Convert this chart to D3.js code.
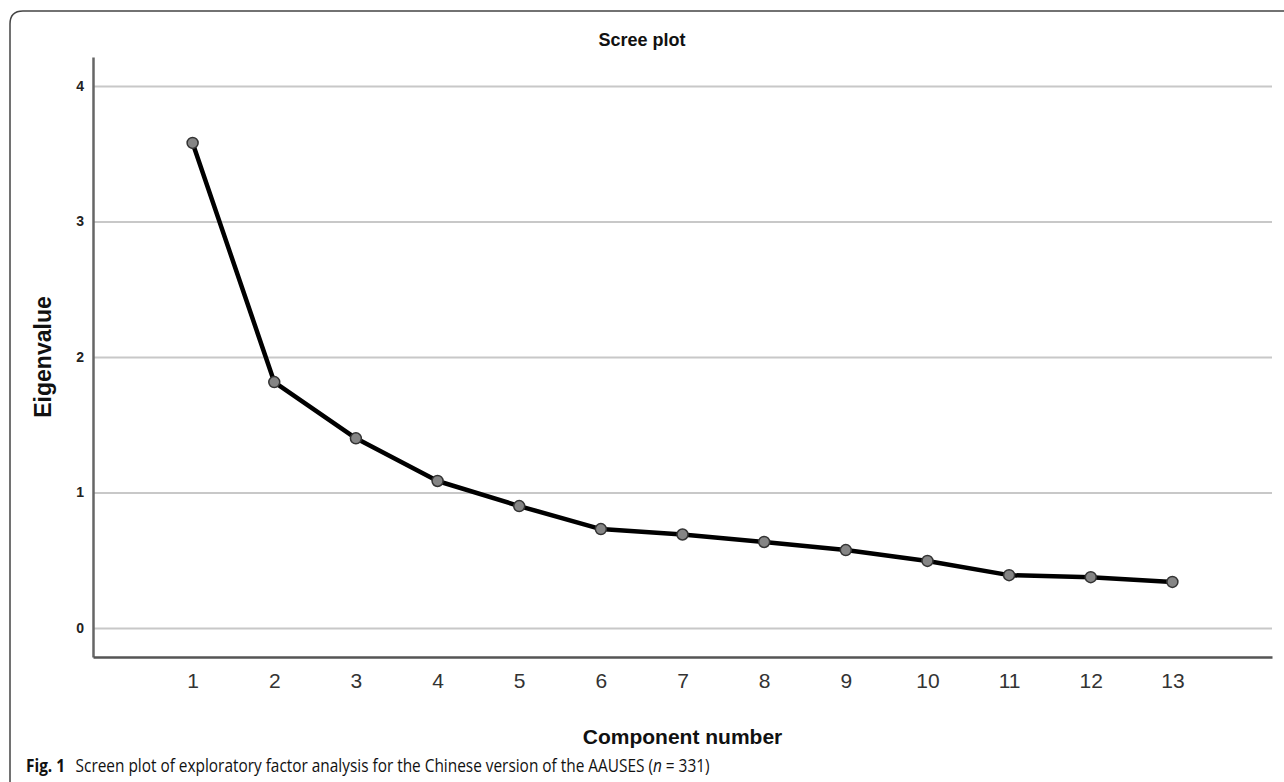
<!DOCTYPE html>
<html>
<head>
<meta charset="utf-8">
<script src="https://cdn.jsdelivr.net/npm/d3@7"></script>
<style>
  body { margin: 0; background: #fff; }
  svg { display: block; }
</style>
</head>
<body>
<svg width="1284" height="782"></svg>
<script>
// component numbers and eigenvalues
var components = [1, 2, 3, 4, 5, 6, 7, 8, 9, 10, 11, 12, 13];
var eigenvalues = [3.58, 1.815, 1.40, 1.085, 0.90, 0.73, 0.69, 0.635, 0.575, 0.495, 0.39, 0.375, 0.34];
var yTicks = [0, 1, 2, 3, 4];

var svg = d3.select("svg");
var margin = { top: 57, right: 12, bottom: 125, left: 93 };
var width = +svg.attr("width") - margin.left - margin.right;
var height = +svg.attr("height") - margin.top - margin.bottom;

// figure frame (rounded top-left corner, open to right and bottom)
svg.append("path")
    .attr("d", "M10,790 L10,24 Q10,11 23,11 L1290,11")
    .attr("fill", "none")
    .attr("stroke", "#444")
    .attr("stroke-width", 1.5);

var g = svg.append("g").attr("transform", "translate(" + margin.left + "," + margin.top + ")");

var x = d3.scaleLinear().domain([-0.22, 14.22]).range([0, width]);
var y = d3.scaleLinear().domain([-0.214, 4.214]).range([height, 0]);

// horizontal grid
g.append("g")
    .attr("class", "grid")
    .call(d3.axisLeft(y).tickValues(yTicks).tickSize(-width).tickFormat(""))
    .call(function (s) {
        s.select(".domain").remove();
        s.selectAll("line").attr("stroke", "#c8c8c8").attr("stroke-width", 2);
    });

// y axis
g.append("g")
    .attr("class", "axis axis--y")
    .call(d3.axisLeft(y).tickValues(yTicks).tickSize(0).tickPadding(9).tickFormat(d3.format("d")))
    .call(function (s) {
        s.select(".domain").attr("stroke", "#666").attr("stroke-width", 2.5);
        s.selectAll("text")
            .attr("fill", "#222")
            .style("font", "bold 14px 'Liberation Sans', Arial, sans-serif");
    });

// x axis
g.append("g")
    .attr("class", "axis axis--x")
    .attr("transform", "translate(0," + height + ")")
    .call(d3.axisBottom(x).tickValues(components).tickSize(0).tickPadding(16).tickFormat(d3.format("d")))
    .call(function (s) {
        s.select(".domain").attr("stroke", "#555").attr("stroke-width", 2.5);
        s.selectAll("text")
            .attr("fill", "#333")
            .style("font", "21px 'Liberation Sans', Arial, sans-serif");
    });

// line + points
var line = d3.line()
    .x(function (d, i) { return x(components[i]); })
    .y(function (d) { return y(d); });

g.append("path")
    .datum(eigenvalues)
    .attr("fill", "none")
    .attr("stroke", "#000")
    .attr("stroke-width", 4.5)
    .attr("stroke-linejoin", "round")
    .attr("d", line);

g.selectAll(".dot")
    .data(eigenvalues)
    .enter().append("circle")
    .attr("class", "dot")
    .attr("cx", function (d, i) { return x(components[i]); })
    .attr("cy", function (d) { return y(d); })
    .attr("r", 5.5)
    .attr("fill", "#858585")
    .attr("stroke", "#333")
    .attr("stroke-width", 1.5);

// titles
svg.append("text")
    .attr("x", 642)
    .attr("y", 46)
    .attr("text-anchor", "middle")
    .attr("fill", "#111")
    .style("font", "bold 18px 'Liberation Sans', Arial, sans-serif")
    .text("Scree plot");

svg.append("text")
    .attr("transform", "translate(51," + (margin.top + y(2)) + ") rotate(-90)")
    .attr("text-anchor", "middle")
    .attr("fill", "#111")
    .style("font", "bold 23px 'Liberation Sans', Arial, sans-serif")
    .text("Eigenvalue");

svg.append("text")
    .attr("x", margin.left + x(7))
    .attr("y", 744)
    .attr("text-anchor", "middle")
    .attr("fill", "#111")
    .style("font", "bold 21px 'Liberation Sans', Arial, sans-serif")
    .text("Component number");

// caption (condensed to mimic the journal's narrow face)
var cap = svg.append("text")
    .attr("transform", "translate(26,772) scale(0.88,1)")
    .attr("fill", "#111")
    .style("font", "17.5px 'Open Sans', 'Noto Sans', sans-serif");
cap.append("tspan").style("font-weight", "bold").text("Fig. 1");
cap.append("tspan").attr("dx", 12).text("Screen plot of exploratory factor analysis for the Chinese version of the AAUSES (");
cap.append("tspan").style("font-style", "italic").text("n");
cap.append("tspan").text(" = 331)");
</script>
</body>
</html>
